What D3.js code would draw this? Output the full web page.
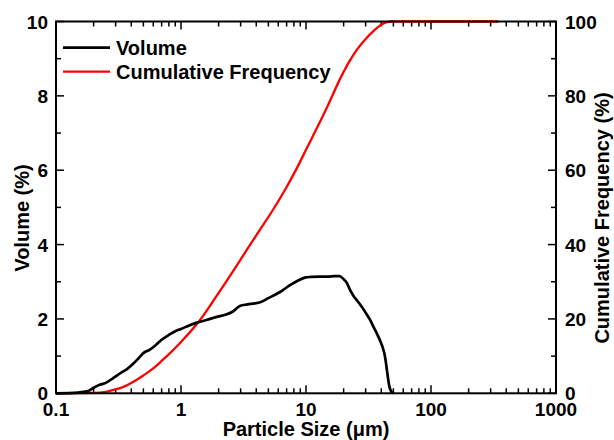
<!DOCTYPE html>
<html>
<head>
<meta charset="utf-8">
<script src="https://cdn.jsdelivr.net/npm/d3@7"></script>
<style>
  html, body { margin: 0; padding: 0; background: #fff; }
  svg { display: block; font-family: "Liberation Sans", Arial, sans-serif; font-weight: bold; }
</style>
</head>
<body>
<svg id="chart" width="614" height="440"></svg>
<script>
// Volume distribution (particle size in µm, volume %)
const volSize = [0.1, 0.15, 0.18, 0.2, 0.22, 0.25, 0.29, 0.33, 0.37, 0.41, 0.46, 0.5, 0.56, 0.62, 0.7, 0.8, 0.9, 1.0, 1.15, 1.34, 1.6, 1.9, 2.3, 2.6, 2.95, 3.4, 3.9, 4.3, 5.0, 5.8, 6.5, 7.45, 8.5, 9.8, 11, 12.9, 15, 17, 18.5, 20, 21.2, 22.5, 24, 26, 28, 30, 32.5, 35, 37, 39, 41, 42.5, 43.5, 44.5, 45.5, 46.5, 47.5, 48.5, 50];
const volValue = [0, 0.02, 0.06, 0.15, 0.22, 0.28, 0.42, 0.55, 0.65, 0.78, 0.95, 1.08, 1.17, 1.28, 1.44, 1.57, 1.67, 1.73, 1.82, 1.9, 1.97, 2.05, 2.12, 2.2, 2.35, 2.39, 2.42, 2.45, 2.56, 2.67, 2.77, 2.91, 3.02, 3.11, 3.13, 3.14, 3.14, 3.15, 3.15, 3.07, 2.97, 2.78, 2.62, 2.47, 2.32, 2.17, 1.98, 1.76, 1.6, 1.43, 1.24, 1.05, 0.85, 0.6, 0.36, 0.18, 0.08, 0.03, 0];

// Cumulative frequency (particle size in µm, cumulative %)
const cumSize = [0.1, 0.2, 0.25, 0.288, 0.35, 0.416, 0.5, 0.6, 0.7, 0.817, 1.0, 1.42, 2.0, 3.0, 4.0, 5.48, 7.0, 8.43, 10, 12.5, 15, 18.7, 22, 25.4, 30, 34.6, 40, 44.2, 47, 100, 200, 345];
const cumValue = [0, 0.1, 0.4, 0.9, 1.8, 3.1, 4.8, 6.7, 8.7, 10.8, 13.8, 19.7, 27, 36, 42.5, 49.5, 55.5, 60.5, 65.5, 72, 77.5, 84.5, 89, 92.3, 95.3, 97.4, 99.1, 99.8, 100, 100, 100, 100];

const xTickValues = [0.1, 1, 10, 100, 1000];
const xTickLabels = ["0.1", "1", "10", "100", "1000"];
const leftTicks = [0, 2, 4, 6, 8, 10];
const rightTicks = [0, 20, 40, 60, 80, 100];
const seriesNames = ["Volume", "Cumulative Frequency"];
const seriesColors = ["#000000", "#ff0000"];

const svg = d3.select("#chart");
const L = 56, R = 556, T = 21.5, B = 393.3;

const x = d3.scaleLog().domain([0.1, 1000]).range([L, R]);
const yL = d3.scaleLinear().domain([0, 10]).range([B, T]);
const yR = d3.scaleLinear().domain([0, 100]).range([B, T]);

const minorX = [];
for (let d = -1; d < 3; d++) for (let k = 2; k <= 9; k++) minorX.push(k * Math.pow(10, d));
const minorY = [1, 3, 5, 7, 9];

const tickG = svg.append("g").attr("stroke", "#000").attr("stroke-width", 1.5);
xTickValues.forEach(v => {
  tickG.append("line").attr("x1", x(v)).attr("x2", x(v)).attr("y1", B).attr("y2", B - 8);
  tickG.append("line").attr("x1", x(v)).attr("x2", x(v)).attr("y1", T).attr("y2", T + 8);
});
minorX.forEach(v => {
  tickG.append("line").attr("x1", x(v)).attr("x2", x(v)).attr("y1", B).attr("y2", B - 5);
  tickG.append("line").attr("x1", x(v)).attr("x2", x(v)).attr("y1", T).attr("y2", T + 5);
});
leftTicks.forEach(v => {
  tickG.append("line").attr("x1", L).attr("x2", L + 8).attr("y1", yL(v)).attr("y2", yL(v));
});
rightTicks.forEach(v => {
  tickG.append("line").attr("x1", R).attr("x2", R - 8).attr("y1", yR(v)).attr("y2", yR(v));
});
minorY.forEach(v => {
  tickG.append("line").attr("x1", L).attr("x2", L + 5).attr("y1", yL(v)).attr("y2", yL(v));
  tickG.append("line").attr("x1", R).attr("x2", R - 5).attr("y1", yL(v)).attr("y2", yL(v));
});

const lineVol = d3.line().x((d, i) => x(volSize[i])).y(d => yL(d)).curve(d3.curveMonotoneX);
const lineCum = d3.line().x((d, i) => x(cumSize[i])).y(d => yR(d)).curve(d3.curveMonotoneX);

svg.append("path").attr("d", lineCum(cumValue)).attr("fill", "none")
  .attr("stroke", seriesColors[1]).attr("stroke-width", 2.3).attr("stroke-linejoin", "round");
svg.append("path").attr("d", lineVol(volValue)).attr("fill", "none")
  .attr("stroke", seriesColors[0]).attr("stroke-width", 2.7).attr("stroke-linejoin", "round");

svg.append("rect").attr("x", L).attr("y", T).attr("width", R - L).attr("height", B - T)
  .attr("fill", "none").attr("stroke", "#000").attr("stroke-width", 2);

const fs = 19;
xTickValues.forEach((v, i) => {
  svg.append("text").attr("x", x(v)).attr("y", 415.5).attr("text-anchor", "middle")
    .attr("font-size", fs).text(xTickLabels[i]);
});
leftTicks.forEach(v => {
  svg.append("text").attr("x", 48).attr("y", yL(v) + 7).attr("text-anchor", "end")
    .attr("font-size", fs).text(d3.format("d")(v));
});
rightTicks.forEach(v => {
  svg.append("text").attr("x", 565).attr("y", yR(v) + 7).attr("text-anchor", "start")
    .attr("font-size", fs).text(d3.format("d")(v));
});

svg.append("text").attr("x", (L + R) / 2).attr("y", 436).attr("text-anchor", "middle")
  .attr("font-size", 20).text("Particle Size (μm)");
svg.append("text").attr("transform", "translate(29,218) rotate(-90)").attr("text-anchor", "middle")
  .attr("font-size", 20).text("Volume (%)");
svg.append("text").attr("transform", "translate(609,218) rotate(-90)").attr("text-anchor", "middle")
  .attr("font-size", 20).text("Cumulative Frequency (%)");

const legY = [47.7, 71.7];
seriesNames.forEach((name, i) => {
  svg.append("line").attr("x1", 63).attr("x2", 110).attr("y1", legY[i]).attr("y2", legY[i])
    .attr("stroke", seriesColors[i]).attr("stroke-width", i === 0 ? 2.7 : 2.3);
  svg.append("text").attr("x", 116).attr("y", legY[i] + 7).attr("font-size", 20).text(name);
});
</script>
</body>
</html>
